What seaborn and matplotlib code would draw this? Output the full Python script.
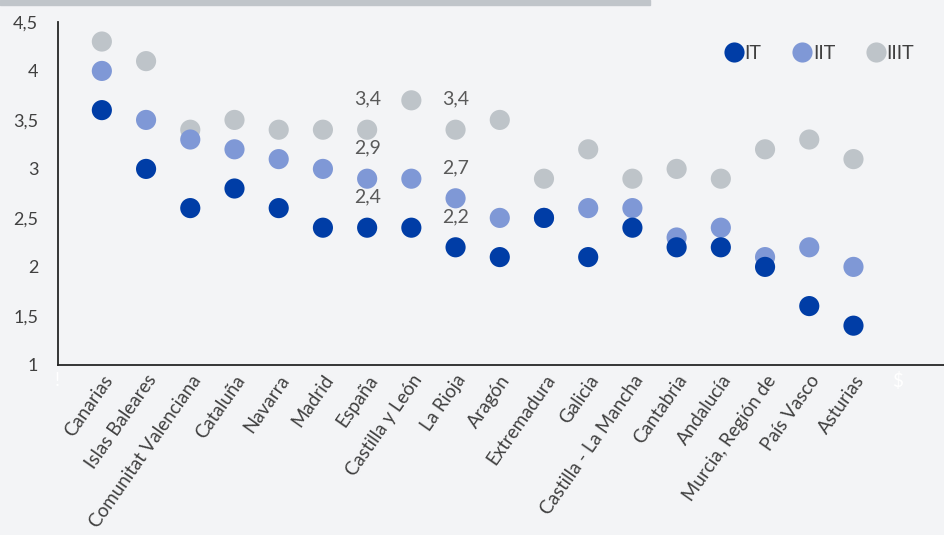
import pandas as pd
import matplotlib.pyplot as plt
import seaborn as sns

regions = ['Canarias', 'Islas Baleares', 'Comunitat Valenciana', 'Cataluña', 'Navarra',
           'Madrid', 'España', 'Castilla y León', 'La Rioja', 'Aragón', 'Extremadura',
           'Galicia', 'Castilla - La Mancha', 'Cantabria', 'Andalucía',
           'Murcia, Región de', 'País Vasco', 'Asturias']
it = [3.6, 3.0, 2.6, 2.8, 2.6, 2.4, 2.4, 2.4, 2.2, 2.1, 2.5, 2.1, 2.4, 2.2, 2.2, 2.0, 1.6, 1.4]
iit = [4.0, 3.5, 3.3, 3.2, 3.1, 3.0, 2.9, 2.9, 2.7, 2.5, 2.5, 2.6, 2.6, 2.3, 2.4, 2.1, 2.2, 2.0]
iiit = [4.3, 4.1, 3.4, 3.5, 3.4, 3.4, 3.4, 3.7, 3.4, 3.5, 2.9, 3.2, 2.9, 3.0, 2.9, 3.2, 3.3, 3.1]
periods = ['IT', 'IIT', 'IIIT']
labelled = ['España', 'La Rioja']

df = pd.DataFrame({'region': regions, 'IT': it, 'IIT': iit, 'IIIT': iiit})
long_df = df.melt(id_vars='region', value_vars=periods, var_name='periodo', value_name='valor')
# draw the grey points first, dark blue last
long_df = long_df.iloc[::-1]

order = ['!'] + regions + ['$']
colors = {'IT': '#003da6', 'IIT': '#7f98d6', 'IIIT': '#bec4c9'}

sns.set_style('white')
plt.rcParams['font.family'] = ['Lato', 'DejaVu Sans']
bg = '#f3f4f6'
txt = '#404040'

fig = plt.figure(figsize=(9.45, 5.35), dpi=100, facecolor=bg)
ax = fig.add_axes([0.061, 0.318, 0.939, 0.641])
ax.set_facecolor(bg)

sns.stripplot(data=long_df, x='region', y='valor', hue='periodo', order=order,
              hue_order=periods, palette=colors, jitter=False, dodge=False,
              size=14.5, linewidth=0, ax=ax)

for r in labelled:
    row = df[df['region'] == r].iloc[0]
    for p in periods:
        ax.annotate(f"{row[p]:.1f}".replace('.', ','), (order.index(r), row[p]),
                    xytext=(0, 16), textcoords='offset points', ha='center',
                    va='bottom', fontsize=14, color='#595959')

ax.set_ylim(1, 4.5)
ax.set_xlim(0.0, 20.07)
yt = [1, 1.5, 2, 2.5, 3, 3.5, 4, 4.5]
ax.set_yticks(yt)
ax.set_yticklabels([f"{v:g}".replace('.', ',') for v in yt], fontsize=13, color=txt)
ax.set_xlabel('')
ax.set_ylabel('')
ax.tick_params(axis='y', length=0, pad=14)
ax.tick_params(axis='x', length=0, pad=5)
for lab in ax.get_xticklabels():
    lab.set_rotation(55)
    lab.set_ha('right')
    lab.set_rotation_mode('anchor')
    lab.set_fontsize(13.5)
    lab.set_color(txt)
    if lab.get_text() in ('!', '$'):
        lab.set_color('white')
        lab.set_rotation(0)
        lab.set_ha('center')
        lab.set_va('top')

for s in ['top', 'right']:
    ax.spines[s].set_visible(False)
for s in ['left', 'bottom']:
    ax.spines[s].set_color('#262626')
    ax.spines[s].set_linewidth(1.3)

ax.legend(loc='upper right', bbox_to_anchor=(0.985, 0.985), ncol=3, frameon=False,
          handlelength=1.0, handletextpad=0.05, columnspacing=1.6, fontsize=14,
          labelcolor=txt)

fig.patches.append(plt.Rectangle((0, 0.99), 0.688, 0.01, transform=fig.transFigure,
                                 color='#c0c5ca', zorder=0))

fig.savefig('out.png', dpi=100, facecolor=bg)
